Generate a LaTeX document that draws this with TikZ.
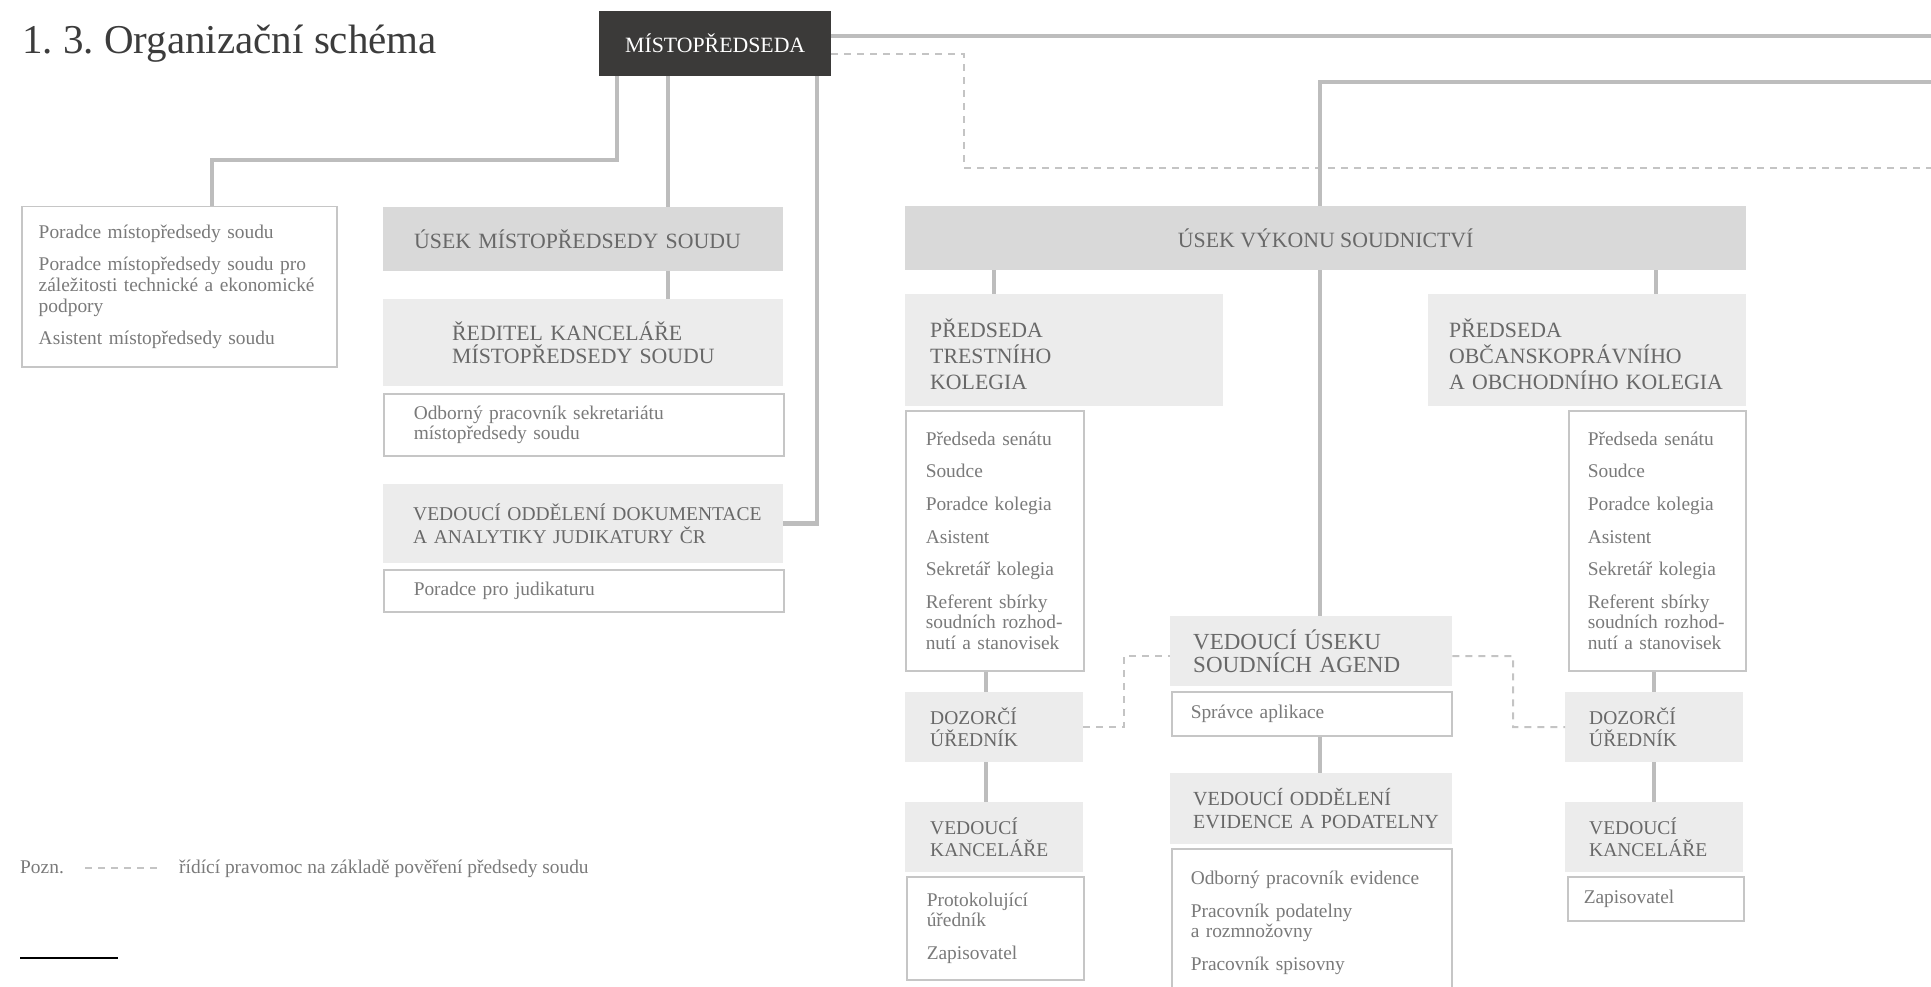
\documentclass[tikz,border=0pt]{standalone}
\usepackage{fontspec}
\setmainfont{Liberation Serif}
\frenchspacing
\definecolor{vicegray}{HTML}{3B3A39}
\definecolor{sectgray}{HTML}{D9D9D9}
\definecolor{headgray}{HTML}{ECECEC}
\definecolor{framegray}{HTML}{C6C6C6}
\definecolor{linegray}{HTML}{BDBDBD}
\definecolor{dashgray}{HTML}{C4C4C4}
\definecolor{headtext}{HTML}{686868}
\definecolor{listtext}{HTML}{7A7A7A}
\definecolor{titletext}{HTML}{3C3C3C}
\newcommand\boxhead{\fontsize{21.8pt}{23pt}\selectfont\hyphenpenalty=10000 }
\newcommand\boxlist{\fontsize{19.4pt}{20.6pt}\selectfont}
\tikzset{
  box/.style={anchor=north west, inner xsep=0pt, inner ysep=0pt, align=left},
  lpad/.style={execute at begin node={\leftskip=#1\relax}},
  dark/.style={box, fill=vicegray, text=white, font=\boxhead, align=center},
  sect/.style={box, fill=sectgray, text=headtext, font=\boxhead},
  head/.style={box, fill=headgray, text=headtext, font=\boxhead},
  small/.style={font=\boxhead\fontsize{#1}{22.5pt}\selectfont},
  list/.style={box, draw=framegray, line width=1.5pt, fill=white, text=listtext, font=\boxlist},
  conn/.style={draw=linegray, line width=4.5pt},
  power/.style={draw=dashgray, line width=2pt, dash pattern=on 7pt off 6pt},
  legend/.style={anchor=base west, inner sep=0pt, font=\boxlist, text=listtext}
}
\begin{document}
\begin{tikzpicture}[x=1pt,y=-1pt]
  \useasboundingbox (0,0) rectangle (1931,987);
  \clip (0,0) rectangle (1931,987);

  \node[anchor=base west, inner sep=0pt, font=\fontsize{41pt}{45pt}\selectfont, text=titletext] (nadpis) at (22,54) {1. 3. Organizační schéma};

  \node[dark, minimum width=232pt, minimum height=65pt] (mp) at (599,11) {MÍSTOPŘEDSEDA};

  \node[list, text width=315pt, minimum height=160pt, lpad=17pt] (poradci) at (21,206) {Poradce místopředsedy soudu\\[12pt] Poradce místopředsedy soudu pro\\ záležitosti technické a ekonomické\\ podpory\\[12pt] Asistent místopředsedy soudu};
  \node[sect, text width=400pt, minimum height=64pt, lpad=31pt] (usekmp) at (383,207) {ÚSEK MÍSTOPŘEDSEDY SOUDU};
  \node[head, text width=400pt, minimum height=87pt, lpad=69pt] (reditel) at (383,299) {ŘEDITEL KANCELÁŘE\\ MÍSTOPŘEDSEDY SOUDU};
  \node[list, text width=400pt, minimum height=62pt, lpad=30pt] (sekret) at (383,393) {Odborný pracovník sekretariátu\\ místopředsedy soudu};
  \node[head, small=19.5pt, text width=400pt, minimum height=79pt, lpad=30pt] (dokum) at (383,484) {\mbox{VEDOUCÍ ODDĚLENÍ DOKUMENTACE}\\ \mbox{A ANALYTIKY JUDIKATURY ČR}};
  \node[list, text width=400pt, minimum height=42pt, lpad=30pt] (judik) at (383,569) {Poradce pro judikaturu};

  \node[sect, minimum width=841pt, minimum height=64pt, align=center] (usekvs) at (905,206) {ÚSEK VÝKONU SOUDNICTVÍ};
  \node[head, text width=318pt, minimum height=112pt, lpad=25pt] (trest) at (905,294) {PŘEDSEDA\\[3pt] TRESTNÍHO\\[3pt] KOLEGIA\par\vspace*{-8pt}};
  \node[list, text width=178pt, minimum height=260pt, lpad=20pt] (trestclen) at (905,410) {Předseda senátu\\[12pt] Soudce\\[12pt] Poradce kolegia\\[12pt] Asistent\\[12pt] Sekretář kolegia\\[12pt] Referent sbírky\\ soudních rozhod-\\ nutí a stanovisek};
  \node[head, small=19.5pt, text width=178pt, minimum height=70pt, lpad=25pt] (dozorl) at (905,692) {DOZORČÍ\\ ÚŘEDNÍK};
  \node[head, small=19.5pt, text width=178pt, minimum height=70pt, lpad=25pt] (kancl) at (905,802) {VEDOUCÍ\\ KANCELÁŘE};
  \node[list, text width=177pt, minimum height=103pt, lpad=20pt] (kanclclen) at (906,876) {Protokolující\\ úředník\\[12pt] Zapisovatel};

  \node[head, small=23pt, text width=282pt, minimum height=70pt, lpad=23pt] (agend) at (1170,616) {VEDOUCÍ ÚSEKU\\ SOUDNÍCH AGEND};
  \node[list, text width=280pt, minimum height=44pt, lpad=19pt] (spravce) at (1171,691) {Správce aplikace};
  \node[head, small=20pt, text width=282pt, minimum height=71pt, lpad=23pt] (evid) at (1170,773) {\mbox{VEDOUCÍ ODDĚLENÍ}\\ \mbox{EVIDENCE A PODATELNY}};
  \node[list, text width=280pt, minimum height=172pt, lpad=19pt] (evidclen) at (1171,848) {Odborný pracovník evidence\\[12pt] Pracovník podatelny\\ a rozmnožovny\\[12pt] Pracovník spisovny\par\vspace*{24pt}};

  \node[head, text width=318pt, minimum height=112pt, lpad=21pt] (obcan) at (1428,294) {PŘEDSEDA\\[3pt] OBČANSKOPRÁVNÍHO\\[3pt] A OBCHODNÍHO KOLEGIA\par\vspace*{-8pt}};
  \node[list, text width=177pt, minimum height=260pt, lpad=19pt] (obcanclen) at (1568,410) {Předseda senátu\\[12pt] Soudce\\[12pt] Poradce kolegia\\[12pt] Asistent\\[12pt] Sekretář kolegia\\[12pt] Referent sbírky\\ soudních rozhod-\\ nutí a stanovisek};
  \node[head, small=19.5pt, text width=178pt, minimum height=70pt, lpad=24pt] (dozorr) at (1565,692) {DOZORČÍ\\ ÚŘEDNÍK};
  \node[head, small=19.5pt, text width=178pt, minimum height=70pt, lpad=24pt] (kancr) at (1565,802) {VEDOUCÍ\\ KANCELÁŘE};
  \node[list, text width=176pt, minimum height=44pt, lpad=16pt] (zapis) at (1567,876) {Zapisovatel};

  \draw[conn] (mp.south -| 617,0) |- (212,160) -- (poradci.north -| 212,0);
  \draw[conn] (mp.south -| 668,0) -- (usekmp.north -| 668,0);
  \draw[conn] (usekmp.south -| 668,0) -- (reditel.north -| 668,0);
  \draw[conn] (mp.south -| 817,0) |- (dokum.east);
  \draw[conn] (mp.east |- 0,36) -- (1931,36);
  \draw[power] (mp.east |- 0,54) -| (964,168) -- (1931,168);
  \draw[conn] (usekvs.north -| 1320,0) |- (1931,82);
  \draw[conn] (usekvs.south -| 994,0) -- (trest.north -| 994,0);
  \draw[conn] (usekvs.south -| 1656,0) -- (obcan.north -| 1656,0);
  \draw[conn] (usekvs.south -| 1320,0) -- (agend.north -| 1320,0);
  \draw[conn] (spravce.south -| 1320,0) -- (evid.north -| 1320,0);
  \draw[conn] (trestclen.south -| 986,0) -- (dozorl.north -| 986,0);
  \draw[conn] (dozorl.south -| 986,0) -- (kancl.north -| 986,0);
  \draw[conn] (obcanclen.south -| 1654,0) -- (dozorr.north -| 1654,0);
  \draw[conn] (dozorr.south -| 1654,0) -- (kancr.north -| 1654,0);
  \draw[power] (dozorl.east) -| (1124,656) -- (agend.west |- 0,656);
  \draw[power] (agend.east |- 0,656) -| (1513,727) -- (dozorr.west);

  \node[legend] (pozn) at (20,873) {Pozn.};
  \node[legend] (poznvysv) at (179,873) {řídící pravomoc na základě pověření předsedy soudu};
  \draw[power] (85,868) -- (158,868);
  \draw[black, line width=1.5pt] (20,958) -- (118,958);
\end{tikzpicture}
\end{document}
